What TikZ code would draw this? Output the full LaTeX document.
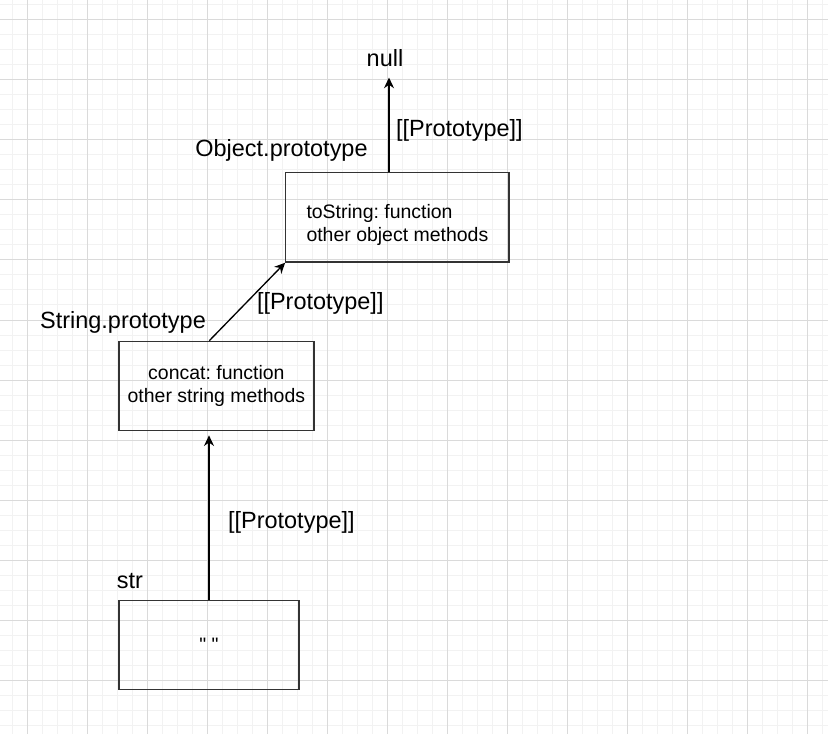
\documentclass[tikz,border=0pt]{standalone}
\usepackage{fontspec}
\setmainfont{Liberation Sans}
\newfontfamily\plainquotes{Liberation Sans}[Ligatures=ResetAll]
\usetikzlibrary{positioning,calc}
\usetikzlibrary{arrows.meta}
\definecolor{gridminor}{RGB}{242,242,242}
\definecolor{gridmajor}{RGB}{218,218,218}
\definecolor{boxline}{RGB}{51,51,51}
\frenchspacing
\newcommand{\namesize}{\fontsize{17.6}{21}\selectfont}
\newcommand{\methodsize}{\fontsize{14.6}{17.3}\selectfont}
\tikzset{proto box/.style={draw=boxline,line width=1pt,minimum height=67pt,inner sep=0pt,font=\methodsize,align=center}}
\tikzset{proto name/.style={font=\namesize,inner sep=0pt}}
\tikzset{link/.style={->,line width=1pt}}

\begin{document}
\begin{tikzpicture}[x=0.75pt,y=-0.75pt,>={Stealth[length=8pt,width=7.5pt]}]
  \useasboundingbox (0,0) rectangle (828,734);
  \fill[white] (0,0) rectangle (828,734);
  \foreach \x in {12,27,...,822} \draw[gridminor,line width=0.75pt] (\x,0) -- (\x,734);
  \foreach \y in {5,20,...,725} \draw[gridminor,line width=0.75pt] (0,\y) -- (828,\y);
  \foreach \x in {27,87,...,807} \draw[gridmajor,line width=0.75pt] (\x,0) -- (\x,734);
  \foreach \y in {20,80,...,680} \draw[gridmajor,line width=0.75pt] (0,\y) -- (828,\y);

  \node[proto box,minimum width=135pt] (str) at (209,645) {\plainquotes " "};
  \node[proto box,minimum width=146.3pt] (strproto) at (216.4,386) {concat: function\\other string methods};
  \node[proto box,minimum width=167.4pt] (objproto) at (397.4,217.4)
    {\raisebox{-6pt}[\height][\depth]{\fontsize{14.6}{17.6}\selectfont\begin{tabular}{@{}l@{}}toString: function\\other object methods\end{tabular}}};
  \node[proto name] (null) at (385,58) {null};
  \node[proto name] (strname) at (130,581) {str};
  \node[proto name] (strprotoname) at (123,322.7) {String.prototype};
  \node[proto name] (objprotoname) at (281.5,150.5) {Object.prototype};

  \draw[link,shorten >=3pt] (str.north) -- (str.north |- strproto.south)
    node[right,pos=0.456,xshift=10.5pt,font=\namesize] (strlink) {[[Prototype]]};
  \draw[link] ([xshift=-5.3pt]strproto.north) -- (objproto.south west)
    node[right,pos=0.5,xshift=3.5pt,yshift=-1.5pt,font=\namesize] (strprotolink) {[[Prototype]]};
  \draw[link,shorten >=8pt] ([xshift=-6.3pt]objproto.north) -- ([xshift=-6.3pt]objproto.north |- null.south)
    node[right,pos=0.4,xshift=1.5pt,font=\namesize] (objprotolink) {[[Prototype]]};
\end{tikzpicture}
\end{document}
